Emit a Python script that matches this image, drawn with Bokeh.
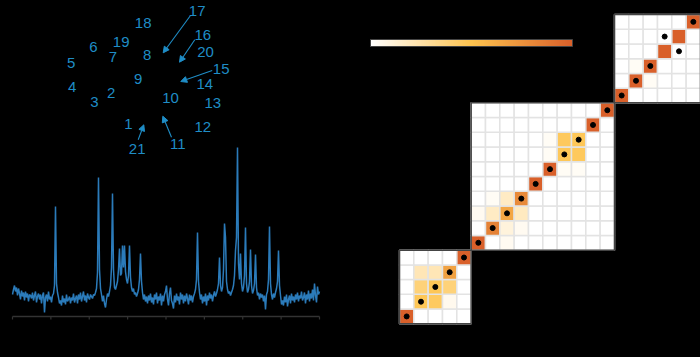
import numpy as np
from bokeh.plotting import figure
from bokeh.models import (Range1d, LinearColorMapper, ColorBar, FixedTicker,
                          ColumnDataSource, Arrow, NormalHead)
from bokeh.layouts import row
from bokeh.core.properties import value
from bokeh.embed import file_html
from bokeh.resources import INLINE

# ---------------- spectrum (intensity, one sample per point, 160 -> 0 ppm) -------------
intensity = [
    3, 8, 12, 6, 10, 2, 9, 4, -2, 7, 1, 5, -3, 6, 0, 4, -4, 3, 2, -1,
    5, -3, 2, 6, -5, 1, 4, -2, 3, -6, 2, 5, -15, 0, 3, -4, 6, -2, 1, -5,
    2, 4, 12, 91, 14, 5, 0, -6, -3, -8, 2, -5, -1, -7, 3, -4, -2, 1, -6, 0,
    -3, 4, -5, -1, 2, -6, 3, -2, 5, -4, 1, 6, -3, 2, -5, 4, 0, -2, 3, 1,
    -1, 3, 2, 5, 9, 25, 120, 28, 9, 3, -4, 2, -6, -10, -2, 4, 1, 6, 12, 30,
    104, 28, 10, 8, 12, 16, 28, 49, 22, 24, 52, 30, 52, 26, 18, 14, 22, 52, 20, 10,
    6, 9, 3, 5, 1, 4, 8, 18, 44, 16, 5, -2, 3, -4, 1, -6, 2, -3, 4, -5,
    0, -7, 3, -2, 5, -6, 1, -3, 4, -8, 2, -4, 3, 6, 12, -2, -8, 4, 10, -3,
    -6, -11, 2, -5, 4, -3, 1, -7, 5, -2, 3, -6, 2, -4, 4, -1, -7, 3, -3, 2,
    -5, 1, 4, 8, 18, 65, 16, 5, -2, 3, -6, 1, -4, 4, -8, 2, -3, 5, -1, 3,
    -4, 2, 6, 1, 4, 8, 14, 40, 12, 6, 10, 28, 74, 60, 16, 8, 4, 6, 2, 5,
    8, 12, 22, 47, 60, 150, 34, 18, 44, 14, 6, 10, 22, 70, 14, 5, 8, 16, 48, 12,
    4, 7, 14, 43, 10, 2, 5, -2, 4, 0, 3, -4, 2, -12, 3, 6, 18, 71, 14, 3,
    -2, 4, 0, 5, 9, 16, 47, 12, 2, -7, -3, -8, 1, -5, 3, -9, -2, 2, -6, 4,
    -3, 1, -5, 3, -2, 5, -4, 2, -1, 6, -3, 0, 5, -6, 3, -2, 7, -4, 4, -1,
    8, -3, 14, 2, -5, 11, 3, 6,
]
shift_ppm = np.linspace(160, 0, len(intensity))
ppm_ticks = [0, 20, 40, 60, 80, 100, 120, 140, 160]
axis_level = -19          # intensity level of the spectrum's axis line
tick_len = 3              # tick length in intensity units

# ---------------- molecule atom labels (drawing coordinates) ----------------
atom_labels = ["17", "18", "16", "19", "6", "20", "8", "7", "5", "15", "9",
               "14", "4", "2", "10", "3", "13", "1", "12", "11", "21"]
atom_x = [18.47, 13.07, 19.03, 10.87, 8.10, 19.30, 13.47, 10.03, 5.87, 20.87, 12.57,
          19.23, 5.97, 9.87, 15.80, 8.20, 20.03, 11.60, 19.03, 16.53, 12.47]
atom_y = [30.53, 29.40, 28.20, 27.47, 26.93, 26.43, 26.20, 25.93, 25.40, 24.77, 23.77,
          23.27, 22.93, 22.37, 21.83, 21.43, 21.40, 19.27, 18.93, 17.27, 16.77]

arrow_tail_x = [17.80, 18.23, 19.97, 15.90, 12.57]
arrow_tail_y = [30.10, 27.67, 24.60, 17.93, 17.67]
arrow_head_x = [15.07, 16.70, 16.83, 15.03, 13.13]
arrow_head_y = [26.37, 25.43, 23.50, 20.03, 19.17]

# ---------------- correlation blocks (rows from bottom, cols from left) ----------------
block_sizes = [5, 10, 6]
block_a = [
    [1.00, 0.00, 0.00, 0.00, 0.00],
    [0.00, 0.48, 0.45, 0.05, 0.00],
    [0.00, 0.38, 0.48, 0.38, 0.00],
    [0.00, 0.21, 0.21, 0.67, 0.00],
    [0.00, 0.00, 0.00, 0.00, 1.00],
]
block_b = [
    [1.00, 0.00, 0.04, 0.00, 0.00, 0.00, 0.00, 0.00, 0.00, 0.00],
    [0.00, 0.83, 0.10, 0.04, 0.00, 0.00, 0.00, 0.00, 0.00, 0.00],
    [0.04, 0.17, 0.65, 0.18, 0.00, 0.00, 0.00, 0.00, 0.00, 0.00],
    [0.00, 0.03, 0.17, 0.79, 0.00, 0.00, 0.00, 0.00, 0.00, 0.00],
    [0.00, 0.00, 0.00, 0.00, 1.00, 0.00, 0.00, 0.00, 0.00, 0.00],
    [0.00, 0.00, 0.00, 0.00, 0.00, 1.00, 0.03, 0.03, 0.00, 0.00],
    [0.00, 0.00, 0.00, 0.00, 0.00, 0.03, 0.48, 0.46, 0.00, 0.00],
    [0.00, 0.00, 0.00, 0.00, 0.00, 0.03, 0.46, 0.48, 0.00, 0.00],
    [0.00, 0.00, 0.00, 0.00, 0.00, 0.00, 0.00, 0.00, 1.00, 0.00],
    [0.00, 0.00, 0.00, 0.00, 0.00, 0.00, 0.00, 0.00, 0.00, 1.00],
]
block_c = [
    [1.00, 0.00, 0.00, 0.00, 0.00, 0.00],
    [0.00, 1.00, 0.03, 0.00, 0.00, 0.00],
    [0.00, 0.03, 1.00, 0.00, 0.00, 0.00],
    [0.00, 0.00, 0.00, 1.00, 0.00, 0.00],
    [0.00, 0.00, 0.00, 0.00, 1.00, 0.00],
    [0.00, 0.00, 0.00, 0.00, 0.00, 1.00],
]
block_values = [block_a, block_b, block_c]
# assigned (row, col) cells, local to each block
block_dots = [
    [(0, 0), (1, 1), (2, 2), (3, 3), (4, 4)],
    [(0, 0), (1, 1), (2, 2), (3, 3), (4, 4), (5, 5), (6, 6), (7, 7), (8, 8), (9, 9)],
    [(0, 0), (1, 1), (2, 2), (3, 4), (4, 3), (5, 5)],
]

# ---------------- styles ----------------
BG = "#000000"
LINE_BLUE = "#2b7bba"
LABEL_BLUE = "#1f8dc6"
AXIS_GREY = "#333333"
FONT = value("Liberation Sans")


def hex_to_rgb(h):
    h = h.lstrip("#")
    return tuple(int(h[i:i + 2], 16) for i in (0, 2, 4))


def build_palette(stops, n=256):
    cols = [hex_to_rgb(s) for s in stops]
    out = []
    for k in range(n):
        t = k / (n - 1) * (len(cols) - 1)
        i = min(int(t), len(cols) - 2)
        f = t - i
        c = [round(cols[i][j] + (cols[i + 1][j] - cols[i][j]) * f) for j in range(3)]
        out.append("#%02x%02x%02x" % tuple(c))
    return out


palette = build_palette(["#ffffff", "#fec44f", "#d9602a"])
mapper = LinearColorMapper(palette=palette, low=0, high=1)

# ---------------- left figure: labels + spectrum ----------------
left = figure(width=360, height=357, output_backend="svg", toolbar_location=None,
              x_range=Range1d(166.254, -21.368), y_range=Range1d(-60, 297),
              x_axis_location=None, y_axis_location=None,
              background_fill_color=BG, border_fill_color=BG,
              outline_line_color=None, min_border=0)
left.grid.visible = False
left.extra_x_ranges = {"molx": Range1d(-1.2, 34.8)}
left.extra_y_ranges = {"moly": Range1d(-4.1, 31.6)}

# axis line and ticks of the spectrum
left.segment(x0=[max(ppm_ticks)], x1=[min(ppm_ticks)], y0=[axis_level],
             y1=[axis_level], line_color=AXIS_GREY, line_width=1.5)
left.segment(x0=ppm_ticks, x1=ppm_ticks, y0=[axis_level] * len(ppm_ticks),
             y1=[axis_level - tick_len] * len(ppm_ticks),
             line_color=AXIS_GREY, line_width=1.2)

left.line(shift_ppm, intensity, line_color=LINE_BLUE, line_width=1.5)

left.text(x=atom_x, y=atom_y, text=atom_labels, x_range_name="molx",
          y_range_name="moly", text_color=LABEL_BLUE, text_font=FONT,
          text_font_size="15px", text_align="center", text_baseline="middle")

arrow_src = ColumnDataSource(dict(x0=arrow_tail_x, y0=arrow_tail_y,
                                  x1=arrow_head_x, y1=arrow_head_y))
left.add_layout(Arrow(source=arrow_src, x_start="x0", y_start="y0",
                      x_end="x1", y_end="y1", x_range_name="molx",
                      y_range_name="moly", line_color=LABEL_BLUE, line_width=1.1,
                      end=NormalHead(size=6, fill_color=LABEL_BLUE,
                                     line_color=LABEL_BLUE, line_width=1)))

# ---------------- right figure: block heat maps ----------------
right = figure(width=340, height=357, output_backend="svg", toolbar_location=None,
               x_range=Range1d(-2.721, 21.0), y_range=Range1d(-2.288, 21.95),
               x_axis_location=None, y_axis_location=None,
               background_fill_color=BG, border_fill_color=BG,
               outline_line_color=None, min_border=0)
right.grid.visible = False

cx, cy, cv, dx, dy = [], [], [], [], []
bx, by, bs = [], [], []
offset = 0
for n, vals, dots in zip(block_sizes, block_values, block_dots):
    for r in range(n):
        for c in range(n):
            cx.append(offset + c + 0.5)
            cy.append(offset + r + 0.5)
            cv.append(vals[r][c])
    for r, c in dots:
        dx.append(offset + c + 0.5)
        dy.append(offset + r + 0.5)
    bx.append(offset + n / 2)
    by.append(offset + n / 2)
    bs.append(n)
    offset += n

cells = ColumnDataSource(dict(x=cx, y=cy, v=cv))
right.rect(x="x", y="y", width=1, height=1, source=cells,
           fill_color={"field": "v", "transform": mapper},
           line_color="#e3e3e3", line_width=1.5)
right.rect(x=bx, y=by, width=bs, height=bs, fill_color=None,
           line_color="#444444", line_width=1.5)
right.scatter(x=dx, y=dy, size=5, fill_color="black", line_color="black")

cb = ColorBar(color_mapper=mapper, orientation="horizontal", location=(10, 311),
              width=202, height=7, padding=0, margin=0,
              ticker=FixedTicker(ticks=[]), major_tick_line_color=None,
              minor_tick_line_color=None, bar_line_color="#444444",
              bar_line_width=1, background_fill_alpha=0, border_line_color=None)
right.add_layout(cb)

layout = row(left, right)
html = file_html(layout, INLINE)
html = html.replace("</head>",
                    "<style>html,body{margin:0;padding:0;background:#000;"
                    "overflow:hidden}</style></head>", 1)
open("out.html", "w").write(html)
